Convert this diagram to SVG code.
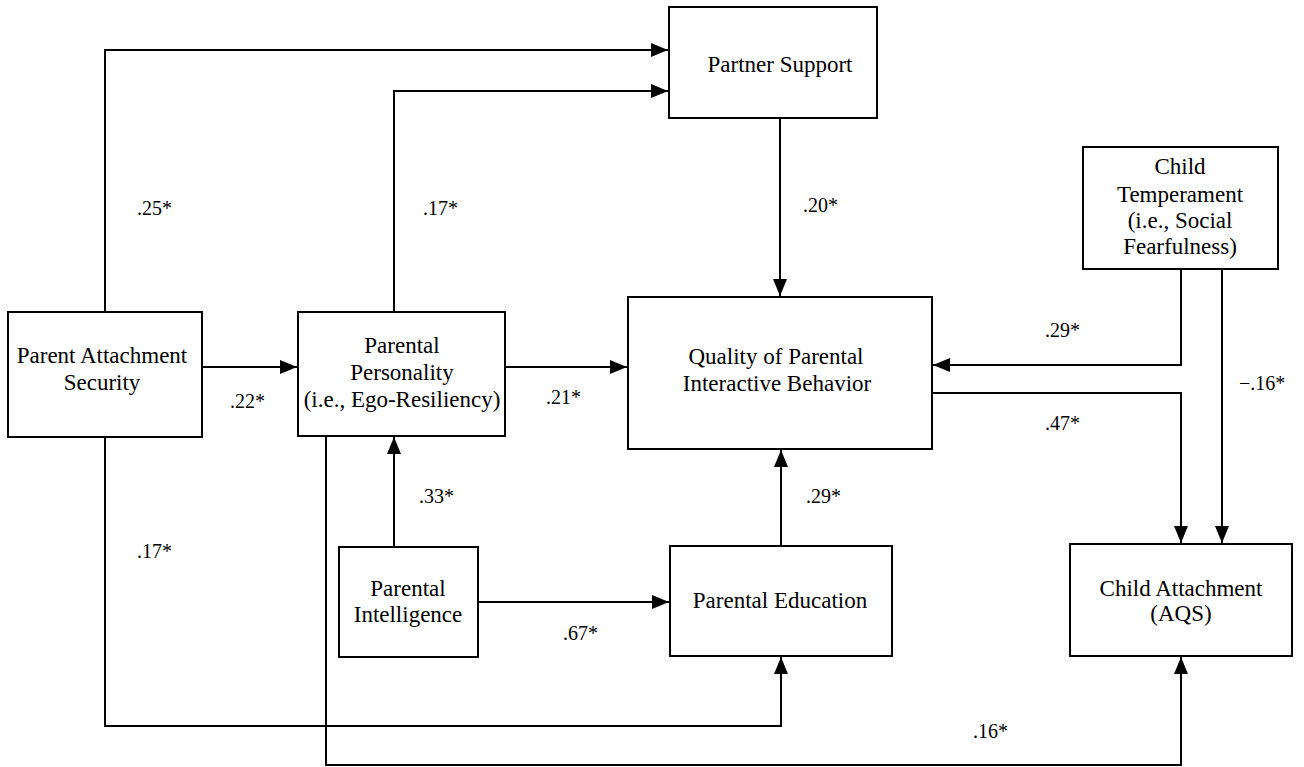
<svg xmlns="http://www.w3.org/2000/svg" width="1304" height="767" viewBox="0 0 1304 767">
<style>
.box{fill:#fff;stroke:#000;stroke-width:2}
.ln{fill:none;stroke:#000;stroke-width:2}
.t{font-family:"Liberation Serif","Times New Roman",serif;font-size:23px;fill:#000;text-anchor:middle}
.lb{font-family:"Liberation Serif","Times New Roman",serif;font-size:20px;fill:#000}
</style>
<defs>
<marker id="ah" markerUnits="userSpaceOnUse" markerWidth="17" markerHeight="15" refX="17" refY="7.5" orient="auto">
<path d="M0,0.5 L17,7.5 L0,14.5 z" fill="#000"/>
</marker>
</defs>
<rect width="1304" height="767" fill="#fff"/>
<g id="connectors">
<polyline class="ln" points="105,312 105,50 668,50" marker-end="url(#ah)"/>
<polyline class="ln" points="394,312 394,91 668,91" marker-end="url(#ah)"/>
<polyline class="ln" points="780,118 780,296" marker-end="url(#ah)"/>
<polyline class="ln" points="202,367 297,367" marker-end="url(#ah)"/>
<polyline class="ln" points="505,367 627,367" marker-end="url(#ah)"/>
<polyline class="ln" points="394,547 394,437" marker-end="url(#ah)"/>
<polyline class="ln" points="478,602 669,602" marker-end="url(#ah)"/>
<polyline class="ln" points="781,546 781,450" marker-end="url(#ah)"/>
<polyline class="ln" points="105,437 105,726 781,726 781,657" marker-end="url(#ah)"/>
<polyline class="ln" points="326,436 326,765 1181,765 1181,657" marker-end="url(#ah)"/>
<polyline class="ln" points="1181,269 1181,365 933,365" marker-end="url(#ah)"/>
<polyline class="ln" points="932,393 1181,393 1181,543" marker-end="url(#ah)"/>
<polyline class="ln" points="1222,269 1222,543" marker-end="url(#ah)"/>
<text class="lb" x="137" y="215">.25*</text>
<text class="lb" x="423" y="215">.17*</text>
<text class="lb" x="803" y="212">.20*</text>
<text class="lb" x="230" y="408">.22*</text>
<text class="lb" x="546" y="404">.21*</text>
<text class="lb" x="419" y="503">.33*</text>
<text class="lb" x="137" y="558">.17*</text>
<text class="lb" x="806" y="503">.29*</text>
<text class="lb" x="563" y="640">.67*</text>
<text class="lb" x="973" y="738">.16*</text>
<text class="lb" x="1045" y="337">.29*</text>
<text class="lb" x="1045" y="430">.47*</text>
<text class="lb" x="1239" y="390">−.16*</text>
</g>
<g id="partner-support">
<rect class="box" x="669" y="7" width="208" height="111"/>
<text class="t" x="780" y="72">Partner Support</text>
</g>
<g id="parent-attachment">
<rect class="box" x="8" y="312" width="194" height="125"/>
<text class="t" x="102" y="363">Parent Attachment</text>
<text class="t" x="102" y="390">Security</text>
</g>
<g id="parental-personality">
<rect class="box" x="298" y="312" width="207" height="124"/>
<text class="t" x="402" y="353">Parental</text>
<text class="t" x="402" y="380">Personality</text>
<text class="t" x="402" y="407">(i.e., Ego-Resiliency)</text>
</g>
<g id="quality">
<rect class="box" x="628" y="297" width="304" height="152"/>
<text class="t" x="776" y="364">Quality of Parental</text>
<text class="t" x="777" y="391">Interactive Behavior</text>
</g>
<g id="child-temperament">
<rect class="box" x="1083" y="147" width="195" height="122"/>
<text class="t" x="1180" y="174">Child</text>
<text class="t" x="1180" y="202">Temperament</text>
<text class="t" x="1180" y="228">(i.e., Social</text>
<text class="t" x="1180" y="254">Fearfulness)</text>
</g>
<g id="parental-intelligence">
<rect class="box" x="339" y="547" width="139" height="110"/>
<text class="t" x="408" y="596">Parental</text>
<text class="t" x="408" y="622">Intelligence</text>
</g>
<g id="parental-education">
<rect class="box" x="670" y="546" width="222" height="110"/>
<text class="t" x="780" y="608">Parental Education</text>
</g>
<g id="child-attachment">
<rect class="box" x="1070" y="544" width="222" height="112"/>
<text class="t" x="1181" y="596">Child Attachment</text>
<text class="t" x="1181" y="621">(AQS)</text>
</g>
</svg>
